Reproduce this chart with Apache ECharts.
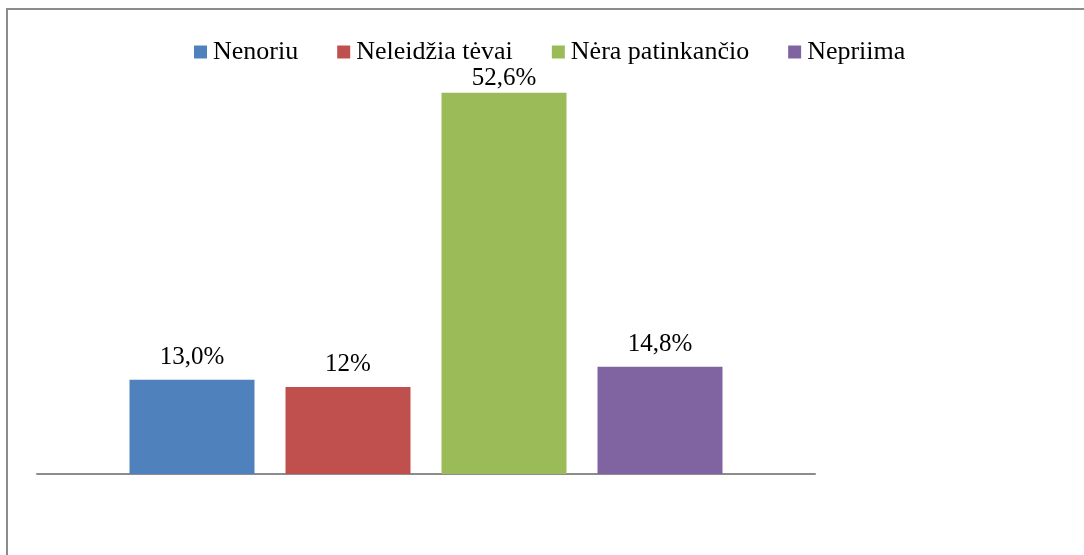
<!DOCTYPE html>
<html>
<head>
<meta charset="utf-8">
<script src="https://cdn.jsdelivr.net/npm/echarts@6/dist/echarts.min.js"></script>
<style>
  html, body { margin: 0; padding: 0; background: #fff; }
  #myChart { width: 1084px; height: 555px; }
</style>
</head>
<body>
<div id="myChart"></div>
<script>
// duomenys
let categories = ['']
let seriesNames = ['Nenoriu', 'Neleidžia tėvai', 'Nėra patinkančio', 'Nepriima']
let seriesValues = [13.0, 12, 52.6, 14.8]
let valueLabels = ['13,0%', '12%', '52,6%', '14,8%']
let colors = ['#4F81BD', '#C0504D', '#9BBB59', '#8064A2']

let myChart = echarts.init(document.getElementById('myChart'))

let series = []
for (let i = 0; i < seriesNames.length; i++) {
  series.push({
    name: seriesNames[i],
    type: 'bar',
    barWidth: 125,
    barGap: '24.8%',
    data: [seriesValues[i]],
    itemStyle: { color: colors[i] },
    label: {
      show: true,
      position: 'top',
      distance: i === 2 ? 2 : 10, // virsutinis uzrasas prispaustas
      fontFamily: 'Liberation Serif',
      fontSize: 25,
      color: '#000',
      formatter: valueLabels[i]
    }
  })
}

let option = {
  animation: false,
  backgroundColor: '#fff',
  graphic: [{
    type: 'rect',
    shape: { x: 7, y: 9, width: 1200, height: 700 },
    style: { fill: 'none', stroke: '#8c8c8c', lineWidth: 2 },
    silent: true
  }],
  legend: {
    left: 189,
    top: 34,
    itemWidth: 13,
    itemHeight: 13,
    itemGap: 39,
    icon: 'rect',
    textStyle: {
      fontFamily: 'Liberation Serif',
      fontSize: 26,
      color: '#000',
      padding: [0, 0, 0, 1]
    },
    data: seriesNames
  },
  grid: {
    left: 37,
    right: 269,
    top: 39,
    bottom: 81
  },
  xAxis: {
    type: 'category',
    data: categories,
    axisLine: { lineStyle: { color: '#8c8c8c', width: 2 } },
    axisTick: { show: false },
    axisLabel: { show: false }
  },
  yAxis: {
    type: 'value',
    min: 0,
    max: 60,
    show: false,
    splitLine: { show: false }
  },
  series: series
}
myChart.setOption(option)
</script>
</body>
</html>
